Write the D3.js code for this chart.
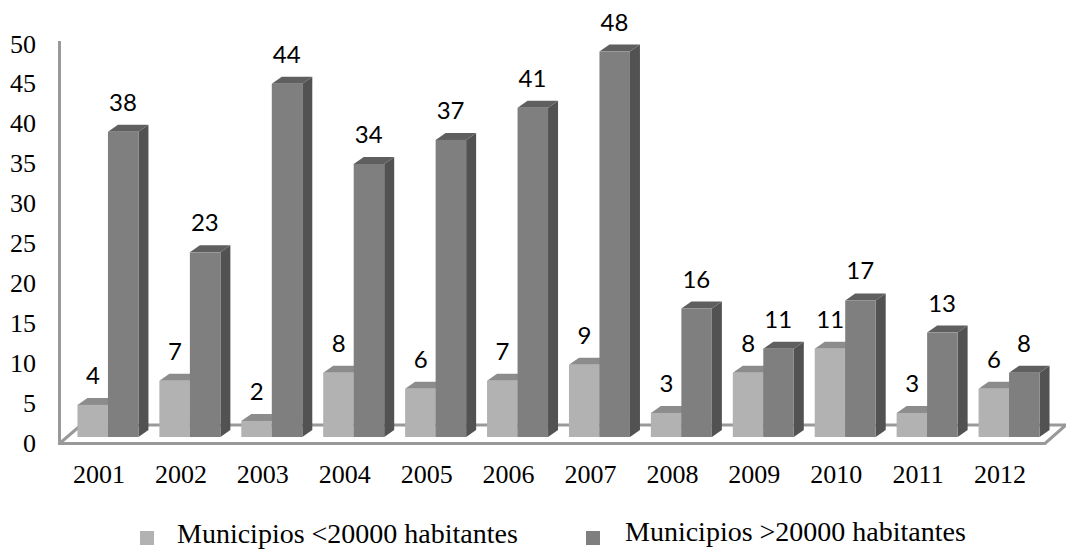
<!DOCTYPE html>
<html>
<head>
<meta charset="utf-8">
<script src="https://cdn.jsdelivr.net/npm/d3@7"></script>
<style>
html, body { margin: 0; padding: 0; background: #fff; }
svg { display: block; }
</style>
</head>
<body>
<svg id="chart" width="1066" height="549"></svg>
<script>
var years = ["2001", "2002", "2003", "2004", "2005", "2006", "2007", "2008", "2009", "2010", "2011", "2012"];
var smallTowns = [4, 7, 2, 8, 6, 7, 9, 3, 8, 11, 3, 6];
var bigTowns = [38, 23, 44, 34, 37, 41, 48, 16, 11, 17, 13, 8];
var yTicks = [0, 5, 10, 15, 20, 25, 30, 35, 40, 45, 50];
var legendNames = ["Municipios <20000 habitantes", "Municipios >20000 habitantes"];

var svg = d3.select("#chart");
var serif = "'Liberation Serif', serif";
var depthX = 10, depthY = 7, barW = 30.5;

var x = d3.scaleBand().domain(years).range([67, 1050]);
var y = d3.scaleLinear().domain([0, 50]).range([437, 35.5]);
// the tick labels sit on the front edge of the floor, a little under the bars' base
var yLabel = d3.scaleLinear().domain([0, 50]).range([443, 44]);

// walls and floor
svg.append("path")
	.attr("d", "M59.5,41V443.5H1045L1066,425H81L59.5,443.5")
	.attr("fill", "none")
	.attr("stroke", "#999")
	.attr("stroke-width", 3);

function drawBar(g, left, value, front, top, side) {
	var t = y(value), b = y(0), r = left + barW;
	g.append("path").attr("fill", side)
		.attr("d", "M" + r + "," + t + "l" + depthX + "," + (-depthY) + "V" + (b - depthY) + "l" + (-depthX) + "," + depthY + "Z");
	g.append("path").attr("fill", top)
		.attr("d", "M" + left + "," + t + "l" + depthX + "," + (-depthY) + "H" + (r + depthX) + "l" + (-depthX) + "," + depthY + "Z");
	g.append("rect").attr("x", left).attr("y", t).attr("width", barW).attr("height", b - t).attr("fill", front);
}

var groups = svg.selectAll(".year").data(years).enter().append("g").attr("class", "year");
groups.each(function(d, i) {
	var g = d3.select(this);
	var mid = x(d) + x.bandwidth() / 2;
	drawBar(g, mid - barW, smallTowns[i], "#b2b2b2", "#8c8c8c", "#7a7a7a");
	drawBar(g, mid, bigTowns[i], "#7f7f7f", "#5f5f5f", "#525252");
});

// data labels
function valueLabel(values, dx) {
	svg.selectAll(null).data(values).enter().append("text")
		.attr("x", function(d, i) { return x(years[i]) + x.bandwidth() / 2 + dx; })
		.attr("y", function(d) { return y(d) - 21; })
		.attr("text-anchor", "middle")
		.attr("font-family", "Lato, sans-serif")
		.attr("font-size", 24)
		.attr("fill", "#000")
		.text(function(d) { return d; });
}
valueLabel(smallTowns, -15);
valueLabel(bigTowns, 15);

// y axis labels
svg.selectAll(".ylab").data(yTicks).enter().append("text")
	.attr("class", "ylab")
	.attr("x", 36)
	.attr("y", function(d) { return yLabel(d); })
	.attr("dy", "0.33em")
	.attr("text-anchor", "end")
	.attr("font-family", serif)
	.attr("font-size", 26)
	.text(function(d) { return d; });

// x axis labels
svg.selectAll(".xlab").data(years).enter().append("text")
	.attr("class", "xlab")
	.attr("x", function(d) { return x(d) + x.bandwidth() / 2 - 9; })
	.attr("y", 483)
	.attr("text-anchor", "middle")
	.attr("font-family", serif)
	.attr("font-size", 26)
	.text(function(d) { return d; });

// legend
var legendColors = ["#b2b2b2", "#7f7f7f"];
var legendX = [140, 586], legendText = [177, 625], legendBase = [542.5, 541];
legendNames.forEach(function(name, i) {
	svg.append("rect").attr("x", legendX[i]).attr("y", 531).attr("width", 14).attr("height", 14).attr("fill", legendColors[i]);
	svg.append("text").attr("x", legendText[i]).attr("y", legendBase[i])
		.attr("font-family", serif).attr("font-size", 28).text(name);
});
</script>
</body>
</html>
